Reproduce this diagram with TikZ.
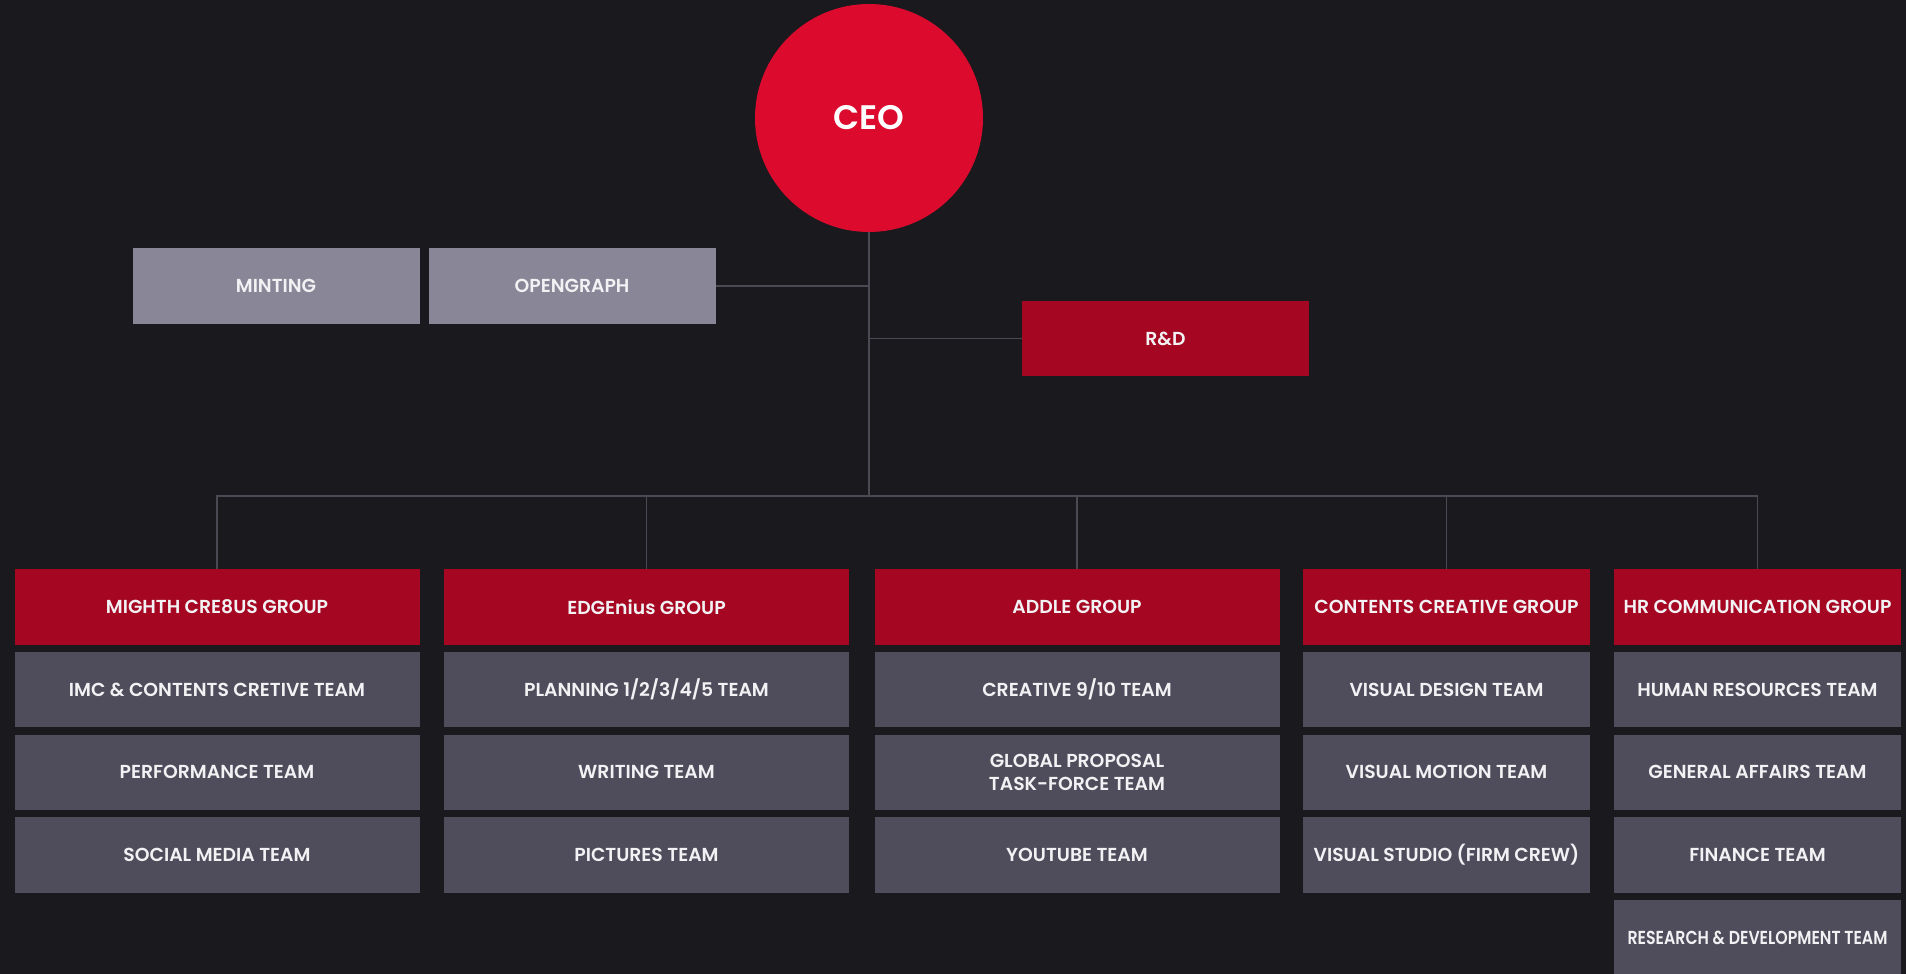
\documentclass[tikz,border=0pt]{standalone}
\usepackage{fontspec}
\setmainfont{Poppins}[BoldFont={Poppins SemiBold}]
\usetikzlibrary{positioning}

\definecolor{bgdark}{HTML}{1A191E}
\definecolor{ceored}{HTML}{DC0A2D}
\definecolor{groupred}{HTML}{A50621}
\definecolor{teamgray}{HTML}{4F4D5B}
\definecolor{sidegray}{HTML}{898697}
\definecolor{linegray}{HTML}{4A4954}
\definecolor{labelwhite}{HTML}{F2F2F4}

\begin{document}
\begin{tikzpicture}[
      x=0.5pt, y=-0.5pt,
      node distance=3.65pt,
      box/.style={rectangle, inner sep=0pt, outer sep=0pt, minimum height=37.7pt, align=center, text=labelwhite,
        font=\fontsize{9.4}{11.7}\selectfont\bfseries},
      wide/.style={box, minimum width=202.5pt},
      narrow/.style={box, minimum width=143.5pt},
      ceo/.style={circle, inner sep=0pt, minimum size=114pt, fill=ceored, text=white,
        font=\fontsize{17}{20}\selectfont\bfseries},
      side/.style={narrow, fill=sidegray},
      group/.style={fill=groupred},
      team/.style={fill=teamgray},
      link/.style={draw=linegray, line width=0.75pt}
    ]

    \fill[bgdark, use as bounding box] (0,0) rectangle (1906,974);
    \clip (0,0) rectangle (1906,974);

    % top level
    \node[ceo] (ceo) at (869,118) {CEO};
    \node[side] (minting) at (276,286) {MINTING};
    \node[side] (opengraph) at (572,286) {OPENGRAPH};
    \node[narrow, group] (rnd) at (1165.5,338.5) {R\&D};
    \coordinate (bus) at (869,496);

    % groups
    \node[wide, group] (mighth) at (217,607) {MIGHTH CRE8US GROUP};
    \node[wide, group] (edgenius) at (646.5,607) {EDGEnius GROUP};
    \node[wide, group] (addle) at (1077,607) {ADDLE GROUP};
    \node[narrow, group] (contents) at (1446.5,607) {CONTENTS CREATIVE GROUP};
    \node[narrow, group] (hrcomm) at (1757.5,607) {HR COMMUNICATION GROUP};

    % teams
    \node[wide, team, below=of mighth] (imc) {IMC \& CONTENTS CRETIVE TEAM};
    \node[wide, team, below=of imc] (performance) {PERFORMANCE TEAM};
    \node[wide, team, below=of performance] (social) {SOCIAL MEDIA TEAM};

    \node[wide, team, below=of edgenius] (planning) {PLANNING 1/2/3/4/5 TEAM};
    \node[wide, team, below=of planning] (writing) {WRITING TEAM};
    \node[wide, team, below=of writing] (pictures) {PICTURES TEAM};

    \node[wide, team, below=of addle] (creative) {CREATIVE 9/10 TEAM};
    \node[wide, team, below=of creative] (proposal) {GLOBAL PROPOSAL\\TASK-FORCE TEAM};
    \node[wide, team, below=of proposal] (youtube) {YOUTUBE TEAM};

    \node[narrow, team, below=of contents] (design) {VISUAL DESIGN TEAM};
    \node[narrow, team, below=of design] (motion) {VISUAL MOTION TEAM};
    \node[narrow, team, below=of motion] (studio) {VISUAL STUDIO (FIRM CREW)};

    \node[narrow, team, below=of hrcomm] (human) {HUMAN RESOURCES TEAM};
    \node[narrow, team, below=of human] (affairs) {GENERAL AFFAIRS TEAM};
    \node[narrow, team, below=of affairs] (finance) {FINANCE TEAM};
    \node[narrow, team, below=of finance] (research) {\scalebox{0.84}[1]{RESEARCH \& DEVELOPMENT TEAM}};

    % connectors
    \draw[link] (ceo) -- (bus);
    \draw[link] (opengraph.east) -- (opengraph.east -| ceo.south);
    \draw[link] (rnd.west) -- (rnd.west -| ceo.south);
    \draw[link] (mighth.north) |- (bus) -| (hrcomm.north);
    \foreach \grp in {edgenius, addle, contents}
      \draw[link] (\grp.north) -- (\grp.north |- bus);
  \end{tikzpicture}
\end{document}
